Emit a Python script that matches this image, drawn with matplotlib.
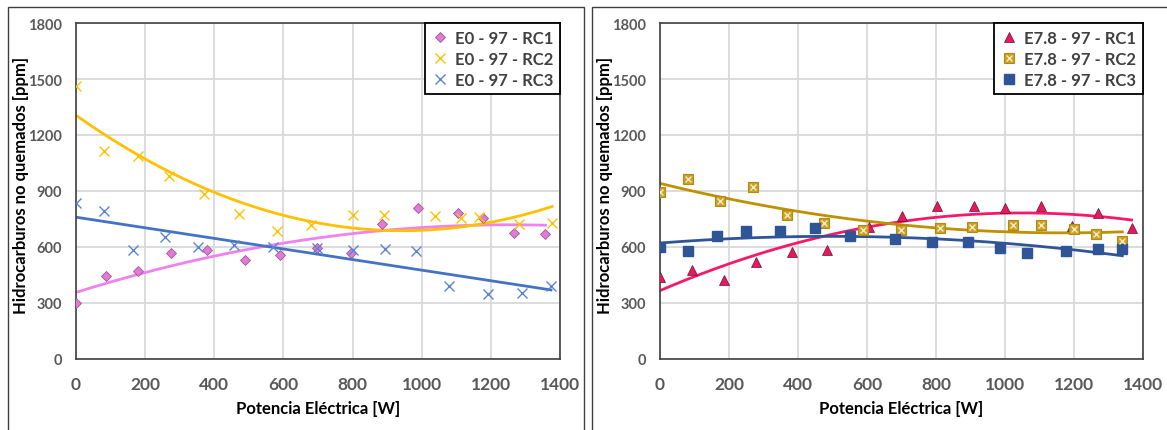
import numpy as np
import matplotlib
matplotlib.use("Agg")
import matplotlib.pyplot as plt
from matplotlib.patches import Rectangle
from matplotlib.legend_handler import HandlerTuple

plt.rcParams['font.family'] = ['Lato', 'DejaVu Sans']

# --- E0 - 97 (left panel) ---
e0_rc1_x = [0, 86, 179, 276, 380, 490, 589, 696, 796, 886, 988, 1106, 1178, 1266, 1358]
e0_rc1_y = [298, 443, 473, 568, 586, 532, 559, 595, 566, 721, 809, 784, 755, 675, 671]
e0_rc2_x = [0, 80, 179, 268, 370, 471, 581, 680, 800, 891, 1039, 1113, 1167, 1281, 1377]
e0_rc2_y = [1461, 1114, 1089, 979, 882, 775, 684, 720, 770, 773, 768, 755, 759, 721, 730]
e0_rc3_x = [0, 80, 166, 257, 354, 456, 570, 696, 800, 895, 983, 1080, 1193, 1291, 1374]
e0_rc3_y = [836, 793, 582, 655, 598, 611, 600, 593, 586, 589, 579, 389, 348, 355, 389]

# --- E7.8 - 97 (right panel) ---
e78_rc1_x = [0, 92, 185, 277, 383, 485, 607, 702, 803, 909, 1000, 1105, 1193, 1270, 1367]
e78_rc1_y = [437, 479, 425, 521, 573, 584, 709, 768, 820, 820, 809, 820, 714, 780, 704]
e78_rc2_x = [0, 80, 173, 269, 367, 475, 587, 698, 813, 905, 1024, 1105, 1201, 1263, 1340]
e78_rc2_y = [896, 966, 848, 920, 770, 729, 693, 693, 700, 707, 720, 718, 698, 671, 630]
e78_rc3_x = [0, 80, 166, 249, 349, 450, 552, 680, 789, 893, 986, 1064, 1178, 1270, 1340]
e78_rc3_y = [602, 580, 659, 684, 684, 704, 659, 641, 627, 625, 596, 566, 579, 589, 589]

TICK_COLOR = "#595959"
W, H = 1167, 431


def trend(ax, x, y, deg, color):
    coef = np.polyfit(x, y, deg)
    xs = np.linspace(0, max(x), 200)
    ax.plot(xs, np.polyval(coef, xs), color=color, lw=2, zorder=2)


def style_axes(ax):
    ax.set_xlim(0, 1400)
    ax.set_ylim(0, 1800)
    ax.set_xticks(range(0, 1401, 200))
    ax.set_yticks(range(0, 1801, 300))
    ax.grid(True, color="#D9D9D9", lw=1.3, zorder=0)
    ax.set_axisbelow(True)
    ax.tick_params(length=0, colors=TICK_COLOR)
    ax.tick_params(axis="x", labelsize=12.5, pad=12)
    ax.tick_params(axis="y", labelsize=10.5, pad=10)
    for lab in ax.get_xticklabels() + ax.get_yticklabels():
        lab.set_fontweight("bold")
    for side in ["left", "bottom", "top", "right"]:
        ax.spines[side].set_color("#404040")
        ax.spines[side].set_linewidth(1.2)
    ax.set_xlabel("Potencia Eléctrica [W]", fontsize=12, fontweight="bold", labelpad=6)
    ax.set_ylabel("Hidrocarburos no quemados [ppm]", fontsize=12, fontweight="bold")
    ax.yaxis.set_label_coords(-0.097, 0.52)


def legend(ax, handles, labels):
    leg = ax.legend(handles, labels, loc="upper right", borderaxespad=0,
                    fancybox=False, framealpha=1, edgecolor="black",
                    handlelength=1.0, handletextpad=0.4, borderpad=0.4,
                    labelspacing=0.3, prop={"size": 12, "weight": "bold"},
                    handler_map={tuple: HandlerTuple(ndivide=1)})
    leg.get_frame().set_linewidth(1.3)
    for t in leg.get_texts():
        t.set_color("#404040")


fig = plt.figure(figsize=(W / 100, H / 100), dpi=100)

# panel frames
fig.add_artist(Rectangle((8 / W, -0.05), 576 / W, 1.05 - 8 / H, transform=fig.transFigure,
                         fill=False, edgecolor="#404040", lw=1))
fig.add_artist(Rectangle((592 / W, -0.05), 0.6, 1.05 - 8 / H, transform=fig.transFigure,
                         fill=False, edgecolor="#404040", lw=1))

ax1 = fig.add_axes([76 / W, 1 - 360 / H, 484 / W, 336 / H])
ax2 = fig.add_axes([660 / W, 1 - 360 / H, 483 / W, 336 / H])

# left panel
trend(ax1, e0_rc1_x, e0_rc1_y, 2, "#EE82EE")
trend(ax1, e0_rc2_x, e0_rc2_y, 2, "#FFC000")
trend(ax1, e0_rc3_x, e0_rc3_y, 1, "#4472C4")
h1, = ax1.plot(e0_rc1_x, e0_rc1_y, ls="none", marker="D", ms=5.5,
               mfc="#E07BD6", mec="#A0549A", mew=0.6, zorder=3)
h2, = ax1.plot(e0_rc2_x, e0_rc2_y, ls="none", marker="x", ms=7,
               mec="#FFC000", mew=1.0, zorder=3)
h3, = ax1.plot(e0_rc3_x, e0_rc3_y, ls="none", marker="x", ms=7,
               mec="#5B85D3", mew=1.0, zorder=3)
style_axes(ax1)
legend(ax1, [h1, h2, h3], ["E0 - 97 - RC1", "E0 - 97 - RC2", "E0 - 97 - RC3"])

# right panel
trend(ax2, e78_rc1_x, e78_rc1_y, 2, "#F5196B")
trend(ax2, e78_rc2_x, e78_rc2_y, 2, "#BF9000")
trend(ax2, e78_rc3_x, e78_rc3_y, 2, "#2F5597")
g1, = ax2.plot(e78_rc1_x, e78_rc1_y, ls="none", marker="^", ms=7.5,
               mfc="#E8185E", mec="#6E0E2E", mew=0.5, zorder=3)
g2a, = ax2.plot(e78_rc2_x, e78_rc2_y, ls="none", marker="s", ms=7,
                mfc="#C9A227", mec="#B38A10", mew=0.8, zorder=3)
g2b, = ax2.plot(e78_rc2_x, e78_rc2_y, ls="none", marker="x", ms=5,
                mec="#F6EBC4", mew=1.0, zorder=4)
g3, = ax2.plot(e78_rc3_x, e78_rc3_y, ls="none", marker="s", ms=7,
               mfc="#2F5597", mec="#2F5597", zorder=3)
style_axes(ax2)
legend(ax2, [g1, (g2a, g2b), g3], ["E7.8 - 97 - RC1", "E7.8 - 97 - RC2", "E7.8 - 97 - RC3"])

fig.savefig("out.png", dpi=100)
